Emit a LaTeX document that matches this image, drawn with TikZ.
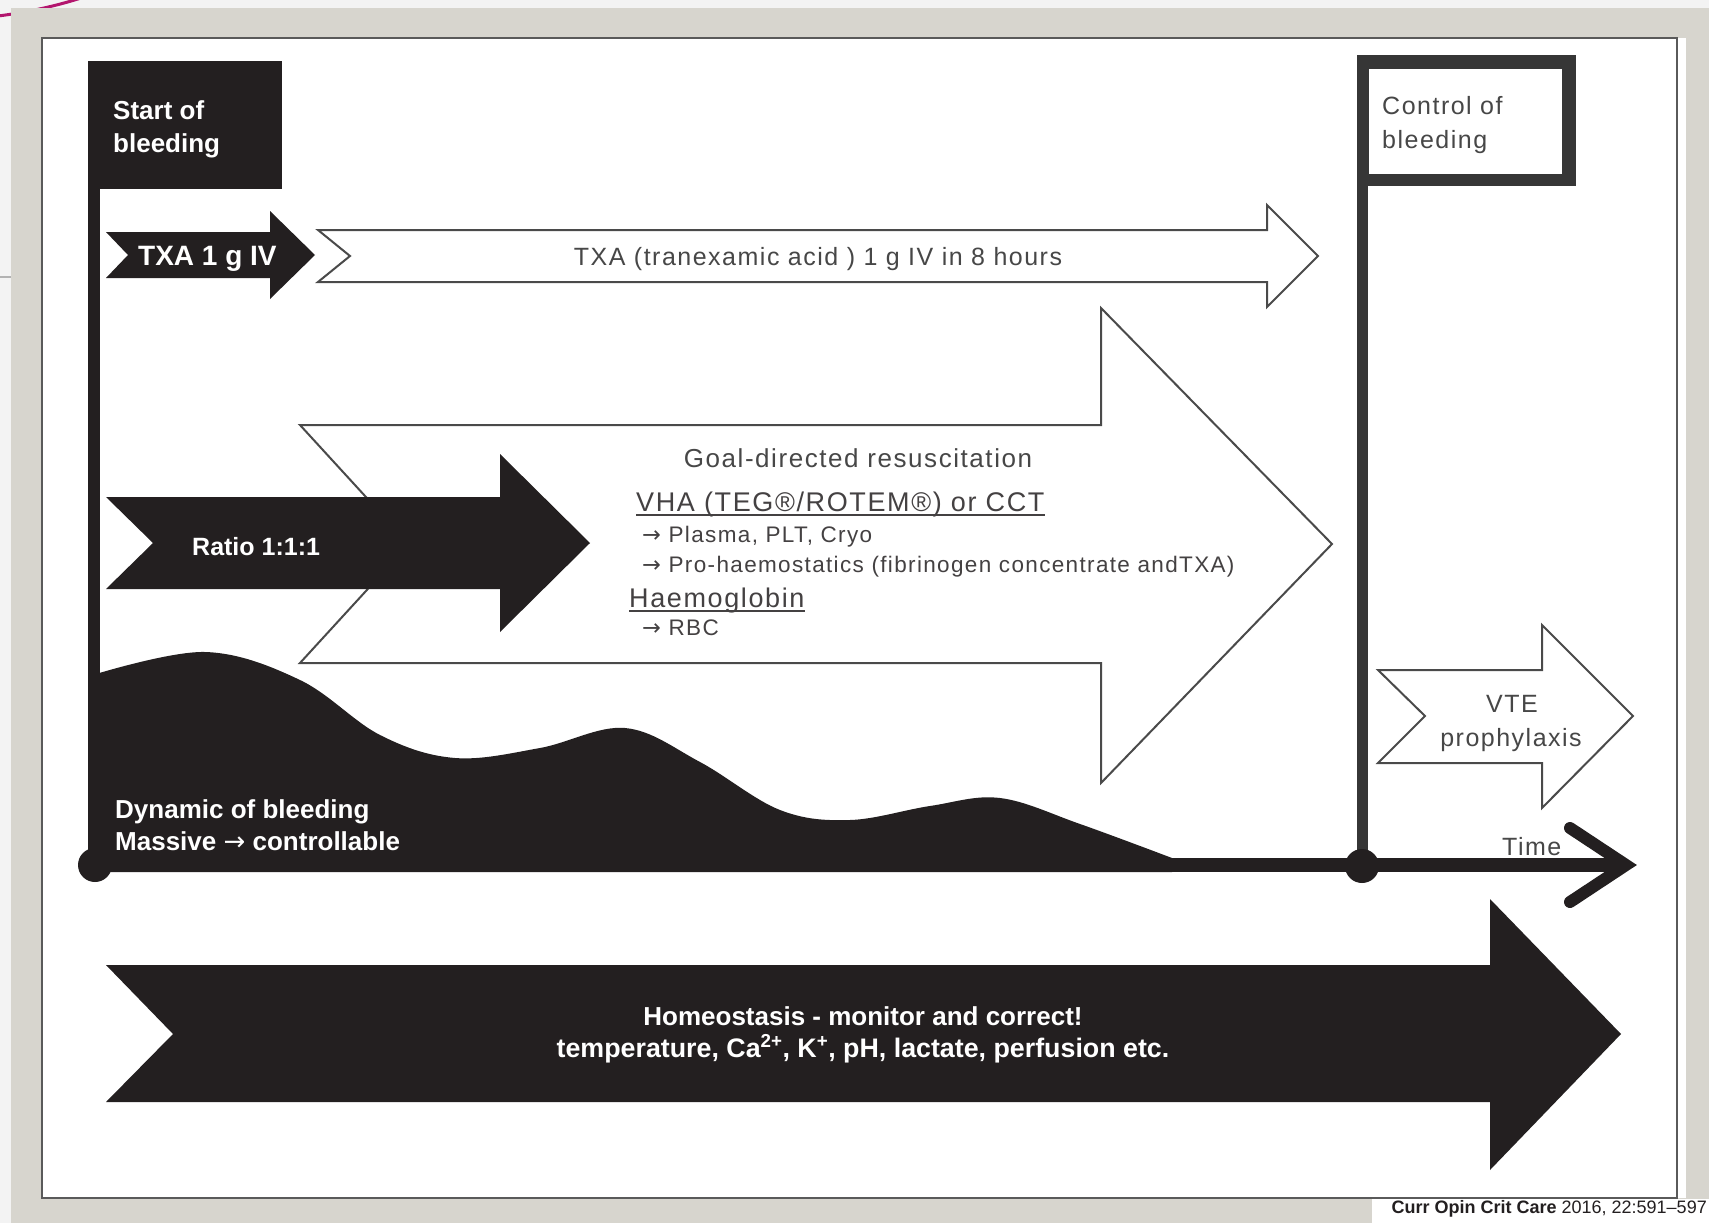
\documentclass[tikz,border=0pt]{standalone}
\usepackage{fontspec}
\setmainfont{Liberation Sans}
\newfontfamily\trackedsans[LetterSpace=6]{Liberation Sans}
\newfontfamily\arrowfont{DejaVu Sans}
\newcommand\rarr{{\arrowfont\mdseries →}}
\definecolor{ink}{HTML}{231F20}
\definecolor{boxdark}{HTML}{363636}
\definecolor{outline}{HTML}{4A4A4A}
\definecolor{greytext}{HTML}{474747}
\definecolor{framegrey}{HTML}{D7D5CE}
\definecolor{framedark}{HTML}{5A5A5A}
\definecolor{pagebg}{HTML}{F3F3F3}
\definecolor{slidemagenta}{HTML}{B3166E}

\tikzset{
  inkarrow/.style={fill=ink},
  openarrow/.style={fill=white, draw=outline, line width=2, line join=miter},
  whitebold/.style={inner sep=0, text=white, font=\fontsize{#1}{#1}\selectfont\bfseries},
  greylabel/.style={inner sep=0, text=greytext, font=\trackedsans\fontsize{#1}{#1}\selectfont},
  darklabel/.style={inner sep=0, text=ink!85, font=\trackedsans\fontsize{#1}{#1}\selectfont},
  dotnode/.style={circle, fill=ink, inner sep=0, minimum size=34},
}

\begin{document}
\begin{tikzpicture}[x=1pt, y=-1pt]
\useasboundingbox (0,0) rectangle (1709,1223);

% page, slide decoration and frame
\fill[pagebg] (0,0) rectangle (1709,1223);
\draw[slidemagenta, line width=3] (-2,16) .. controls (30,12) and (60,5) .. (84,-3);
\draw[gray!60, line width=1.5] (0,277) -- (11,277);
\fill[framegrey] (11,8) rectangle (1709,1223);
\fill[white] (42,38) rectangle (1686,1198);
\draw[framedark, line width=2] (42,38) -- (42,1198) -- (1677,1198) -- (1677,38) -- cycle;

% citation strip
\fill[white] (1372,1199) rectangle (1709,1223);
\node[inner sep=0, anchor=base east, text=ink, font=\fontsize{18}{18}\selectfont]
  (cite) at (1707,1213) {\textbf{Curr Opin Crit Care} 2016, 22:591–597};

% dynamic of bleeding (filled wave above the time axis)
\fill[ink] plot[smooth, tension=0.6] coordinates {(96,674) (205,652) (300,680) (380,735)
  (455,758) (540,748) (625,728) (700,762) (780,810) (850,820) (930,806) (1000,798)
  (1080,824) (1172,858)} -- (1172,872) -- (96,872) -- cycle;

% start of bleeding flag
\fill[ink] (88,61) rectangle (282,189);
\fill[ink] (88,189) rectangle (100,865);
\node[whitebold=26, anchor=base west] (start1) at (113,120) {Start of};
\node[whitebold=26, anchor=base west] (start2) at (113,152) {bleeding};

% control of bleeding flag
\fill[boxdark] (1357,55) rectangle (1576,186);
\fill[white] (1369,69) rectangle (1562,174);
\fill[boxdark] (1357,186) rectangle (1368,866);
\node[greylabel=25, anchor=base west] (ctrl1) at (1382,114) {Control of};
\node[greylabel=25, anchor=base west] (ctrl2) at (1382,148) {bleeding};

% TXA bolus and infusion
\fill[inkarrow] (106,232) -- (270,232) -- (270,211) -- (315,255) -- (270,299)
  -- (270,278) -- (106,278) -- (128,255) -- cycle;
\node[whitebold=28, anchor=base west] (txa) at (138,265) {TXA 1 g IV};
\draw[openarrow] (318,230) -- (1267,230) -- (1267,205) -- (1318,256) -- (1267,307)
  -- (1267,282) -- (318,282) -- (350,256) -- cycle;
\node[greylabel=25, anchor=base] (txainf) at (818,265) {TXA (tranexamic acid ) 1 g IV in 8 hours};

% goal-directed resuscitation
\draw[openarrow] (300,425) -- (1101,425) -- (1101,308) -- (1332,544) -- (1101,783)
  -- (1101,663) -- (300,663) -- (409,544) -- cycle;
\node[greylabel=26, anchor=base] (goal) at (858,467) {Goal-directed resuscitation};
\node[darklabel=27, anchor=base west] (vha) at (636,511) {VHA (TEG®/ROTEM®) or CCT};
\draw[ink!85, line width=2] ([yshift=-4pt]vha.base west) -- ([yshift=-4pt]vha.base east);
\node[darklabel=22.5, anchor=base west] (plasma) at (642,542) {\rarr\ Plasma, PLT, Cryo};
\node[darklabel=22.5, anchor=base west] (prohaem) at (642,572) {\rarr\ Pro-haemostatics (fibrinogen concentrate andTXA)};
\node[darklabel=27, anchor=base west] (hb) at (629,607) {Haemoglobin};
\draw[ink!85, line width=2] ([yshift=-4pt]hb.base west) -- ([yshift=-4pt]hb.base east);
\node[darklabel=22.5, anchor=base west] (rbc) at (642,635) {\rarr\ RBC};

% fixed ratio transfusion
\fill[inkarrow] (106,497) -- (500,497) -- (500,454) -- (590,543) -- (500,632)
  -- (500,589) -- (106,589) -- (153,543) -- cycle;
\node[whitebold=25, anchor=base west] (ratio) at (192,555) {Ratio 1:1:1};

% wave caption
\node[whitebold=26, anchor=base west] (dyn1) at (115,818) {Dynamic of bleeding};
\node[whitebold=26, anchor=base west] (dyn2) at (115,850) {Massive \rarr\ controllable};

% VTE prophylaxis
\draw[openarrow] (1378,670) -- (1542,670) -- (1542,625) -- (1633,716) -- (1542,808)
  -- (1542,763) -- (1378,763) -- (1425,716) -- cycle;
\node[greylabel=25, anchor=base] (vte1) at (1512,712) {VTE};
\node[greylabel=25, anchor=base] (vte2) at (1511,746) {prophylaxis};

% time axis
\node[dotnode] (t0) at (95,865) {};
\node[dotnode] (t1) at (1362,866) {};
\coordinate (tend) at (1626,865);
\draw[ink, line width=14] (t0.center) -- (tend);
\draw[ink, line width=12, line cap=round, line join=miter] (1570,828) -- (tend) -- (1570,902);
\node[greylabel=25, anchor=base west] (time) at (1502,855) {Time};

% homeostasis
\fill[inkarrow] (106,965) -- (1490,965) -- (1490,899) -- (1621,1034) -- (1490,1170)
  -- (1490,1102) -- (106,1102) -- (173,1034) -- cycle;
\node[whitebold=26, anchor=base] (homeo1) at (863,1025) {Homeostasis - monitor and correct!};
\node[whitebold=26.8, anchor=base] (homeo2) at (863,1057)
  {temperature, Ca\textsuperscript{2+}, K\textsuperscript{+}, pH, lactate, perfusion etc.};
\end{tikzpicture}
\end{document}
